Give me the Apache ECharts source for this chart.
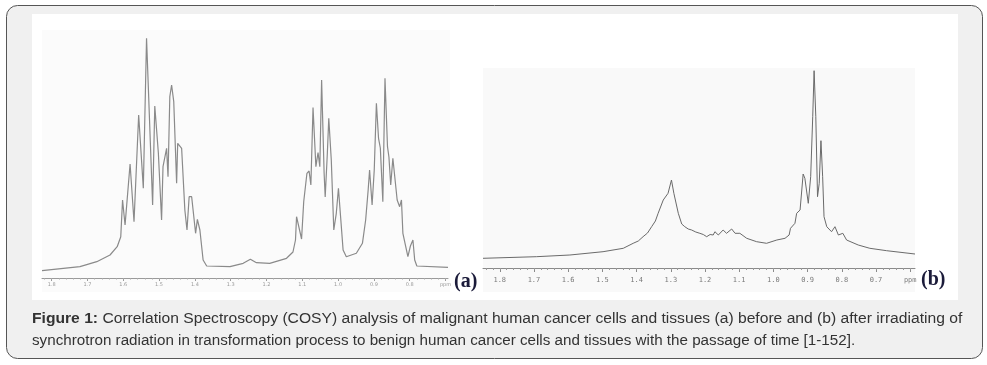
<!DOCTYPE html>
<html><head><meta charset="utf-8">
<script src="https://cdn.jsdelivr.net/npm/echarts@6/dist/echarts.min.js"></script>
<style>html,body{margin:0;padding:0;background:#fff}#c{width:987px;height:365px}</style>
</head><body><div id="c"></div>
<script>
// Spectrum (a): chemical shift (ppm) and relative intensity
const ppmA = [1.827,1.721,1.674,1.637,1.617,1.607,1.602,1.595,1.581,1.570,1.557,1.544,1.535,1.518,1.512,1.502,1.493,1.489,1.479,1.475,1.470,1.465,1.459,1.451,1.448,1.437,1.428,1.422,1.416,1.409,1.398,1.393,1.386,1.377,1.367,1.302,1.265,1.245,1.228,1.191,1.144,1.126,1.119,1.116,1.102,1.096,1.087,1.081,1.076,1.070,1.062,1.056,1.051,1.046,1.039,1.036,1.030,1.026,1.019,1.012,1.005,0.999,0.993,0.986,0.977,0.949,0.932,0.923,0.916,0.912,0.905,0.899,0.893,0.887,0.882,0.875,0.869,0.862,0.858,0.853,0.847,0.842,0.835,0.828,0.823,0.819,0.805,0.798,0.791,0.786,0.780,0.693];
const intA = [7.3,11.3,16.3,23,31.3,41.3,78,53,114,56.3,163,89.7,239.7,73,172,125,58,111.3,129.7,101.3,181.3,193,176.3,94.7,134.7,129.7,68,48,81.3,81.3,44.7,58.7,48,18,12,11.3,14.7,18.7,15.3,14.7,19.7,26,38,61.3,39,76.3,104.7,107,93,170.5,111.3,125.5,111.3,198,104.7,81,124.7,159.7,118,48,64.7,89.7,61.3,28,21.3,24.7,34.7,58,88,108,73,108,174.7,139.7,130,76.3,199.7,131.3,121,93,119.7,118,78,71.3,78,44.7,21.3,32,38,18,12,10.7];
// Spectrum (b)
const ppmB = [1.849,1.693,1.595,1.498,1.439,1.410,1.395,1.381,1.368,1.356,1.345,1.337,1.322,1.308,1.298,1.291,1.278,1.268,1.259,1.249,1.239,1.227,1.215,1.205,1.195,1.185,1.176,1.171,1.161,1.147,1.137,1.122,1.112,1.098,1.078,1.049,1.020,0.990,0.966,0.954,0.950,0.937,0.932,0.922,0.917,0.913,0.908,0.903,0.898,0.891,0.885,0.881,0.876,0.871,0.866,0.861,0.856,0.852,0.844,0.830,0.820,0.810,0.797,0.786,0.752,0.718,0.669,0.586];
const intB = [9.7,11.3,13,16.3,19.7,24.7,27,31.3,35,41.3,47,54.7,68,74.7,88,74.7,54.7,44,41.3,39,38,36,34.7,33.5,31.3,33.5,33,36.3,33,38,34.7,39,34.7,34.7,29.7,26.3,24.7,28,29.7,33,39.7,44.7,54.7,58,78,94,89.7,88,64.7,91.3,151.3,197.3,151.3,71.3,84.7,127.3,91.3,51.3,41.3,36.3,41.3,33,34.7,28,23,19.7,17.3,14];
// Tick labels
const tickValsA = [1.8,1.7,1.6,1.5,1.4,1.3,1.2,1.1,1.0,0.9,0.8,0.7];
const tickLabelsA = ['1.8','1.7','1.6','1.5','1.4','1.3','1.2','1.1','1.0','0.9','0.8','ppm'];
const tickValsB = [1.8,1.7,1.6,1.5,1.4,1.3,1.2,1.1,1.0,0.9,0.8,0.7,0.6];
const tickLabelsB = ['1.8','1.7','1.6','1.5','1.4','1.3','1.2','1.1','1.0','0.9','0.8','0.7','ppm'];
const captionLine1 = 'Correlation Spectroscopy (COSY) analysis of malignant human cancer cells and tissues (a) before and (b) after irradiating of';
const captionLine2 = 'synchrotron radiation in transformation process to benign human cancer cells and tissues with the passage of time [1-152].';

function minorTicks(lo, hi){const r=[];for(let k=Math.ceil(lo*50);k<=Math.floor(hi*50);k++)r.push(+(k/50).toFixed(2));return r;}
function fmt(vals, labels){return v=>{for(let i=0;i<vals.length;i++){if(Math.abs(vals[i]-v)<1e-6)return labels[i];}return '';};}

const chart = echarts.init(document.getElementById('c'), null, {renderer:'canvas'});
const lineA = ppmA.map((p,i)=>[p,intA[i]]);
const lineB = ppmB.map((p,i)=>[p,intB[i]]);
const capFont = '"Liberation Sans", Arial, sans-serif';

chart.setOption({
  animation:false,
  backgroundColor:'#ffffff',
  grid:[
    {left:42, top:30, width:406, height:248},
    {left:483, top:70, width:432, height:198}
  ],
  xAxis:[
    {gridIndex:0, type:'value', inverse:true, min:0.693, max:1.827,
     axisLine:{lineStyle:{color:'#9a9a9a', width:1}}, splitLine:{show:false},
     axisTick:{customValues:tickValsA, length:3, lineStyle:{color:'#9a9a9a'}},
     axisLabel:{customValues:tickValsA, formatter:fmt(tickValsA,tickLabelsA), fontSize:5, color:'#9a9a9a', margin:4, fontFamily:'DejaVu Sans'}},
    {gridIndex:0, type:'value', inverse:true, min:0.693, max:1.827, position:'bottom',
     axisLine:{show:false}, splitLine:{show:false}, axisLabel:{show:false},
     axisTick:{customValues:minorTicks(0.693,1.827), length:1.5, lineStyle:{color:'#a8a8a8'}}},
    {gridIndex:1, type:'value', inverse:true, min:0.586, max:1.849,
     axisLine:{lineStyle:{color:'#8a8a8a', width:1}}, splitLine:{show:false},
     axisTick:{customValues:tickValsB, length:4, lineStyle:{color:'#8a8a8a'}},
     axisLabel:{customValues:tickValsB, formatter:fmt(tickValsB,tickLabelsB), fontSize:7, color:'#7a7a7a', margin:9, fontFamily:'DejaVu Sans Mono'}},
    {gridIndex:1, type:'value', inverse:true, min:0.586, max:1.849, position:'bottom',
     axisLine:{show:false}, splitLine:{show:false}, axisLabel:{show:false},
     axisTick:{customValues:minorTicks(0.586,1.849), length:2, lineStyle:{color:'#9a9a9a'}}}
  ],
  yAxis:[
    {gridIndex:0, type:'value', min:0, max:248, show:false},
    {gridIndex:1, type:'value', min:0, max:198, show:false}
  ],
  series:[
    {type:'line', xAxisIndex:0, yAxisIndex:0, data:lineA, showSymbol:false, symbol:'none',
     lineStyle:{color:'#8a8a8a', width:1.2}, z:5},
    {type:'line', xAxisIndex:2, yAxisIndex:1, data:lineB, showSymbol:false, symbol:'none',
     lineStyle:{color:'#6a6a6a', width:1}, z:5}
  ],
  graphic:[
    {type:'rect', z:-10, shape:{x:6.5, y:5.5, width:976, height:353, r:11},
     style:{fill:'#f0f0f0', stroke:'#555555', lineWidth:1}},
    {type:'rect', z:-9, shape:{x:32, y:14, width:926, height:286}, style:{fill:'#ffffff'}},
    {type:'rect', z:-8, shape:{x:42, y:30, width:408, height:262}, style:{fill:'#fbfbfb'}},
    {type:'rect', z:-8, shape:{x:483, y:68, width:432, height:224}, style:{fill:'#f9f9f9'}},
    {type:'text', z:50, x:454, y:272, style:{text:'(a)', font:'bold 20px "Liberation Serif", "DejaVu Serif", serif', fill:'#1b1b3a', verticalAlign:'top'}},
    {type:'text', z:50, x:921, y:270, style:{text:'(b)', font:'bold 20px "Liberation Serif", "DejaVu Serif", serif', fill:'#1b1b3a', verticalAlign:'top'}},
    {type:'text', z:50, x:32, y:311, scaleX:1.03, style:{
      text:'{b|Figure 1:} ' + captionLine1, verticalAlign:'top',
      rich:{b:{fontWeight:'bold', fontSize:15.2, fontFamily:capFont, fill:'#333333'}},
      fontSize:15.2, fontFamily:capFont, fill:'#333333'}},
    {type:'text', z:50, x:32, y:333, style:{
      text:captionLine2, verticalAlign:'top', fontSize:15.2, fontFamily:capFont, fill:'#333333'}}
  ]
});
</script></body></html>
